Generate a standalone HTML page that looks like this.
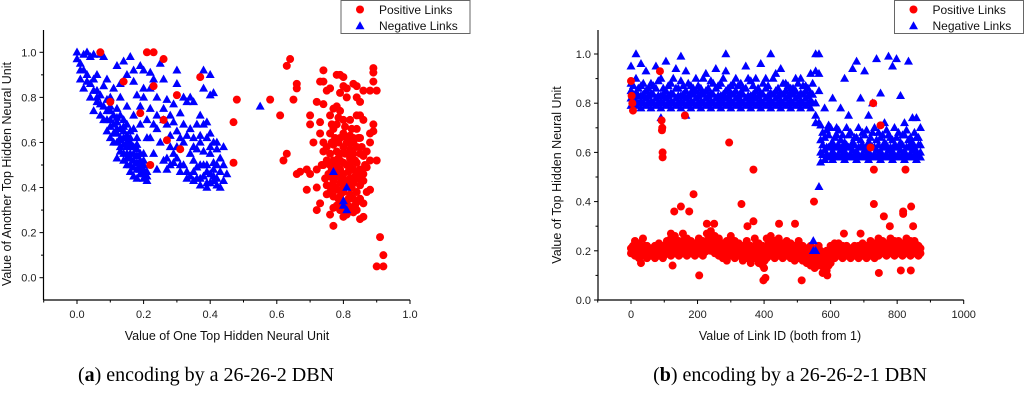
<!DOCTYPE html>
<html><head><meta charset="utf-8"><style>
html,body{margin:0;padding:0;background:#fff;}
svg{display:block;font-family:"Liberation Sans",sans-serif;}
.cap{font-family:"Liberation Serif",serif;font-size:20px;fill:#000;}
</style></head><body>
<svg id="chart" width="1024" height="413" viewBox="0 0 1024 413">
<g id="panelA"></g>
<g id="panelB"></g>
<text class="cap" x="206" y="381" text-anchor="middle">(<tspan font-weight="bold">a</tspan>) encoding by a 26-26-2 DBN</text>
<text class="cap" x="790" y="381" text-anchor="middle">(<tspan font-weight="bold">b</tspan>) encoding by a 26-26-2-1 DBN</text>
</svg>
<script>
// ---------- Panel A data ----------
const aXTicks = [0.0, 0.2, 0.4, 0.6, 0.8, 1.0];
const aYTicks = [0.0, 0.2, 0.4, 0.6, 0.8, 1.0];
const aNeg = [[0,1.0],[0,0.97],[0.01,0.95],[0.02,0.99],[0.03,1.0],[0.04,0.98],[0.05,0.99],[0.07,0.99],[0.08,0.98],[0.02,0.92],[0.03,0.9],[0.01,0.88],[0.02,0.84],[0.04,0.86],[0.05,0.88],[0.06,0.83],[0.04,0.8],[0.06,0.78],[0.07,0.81],[0.08,0.76],[0.09,0.79],[0.1,0.74],[0.05,0.74],[0.07,0.72],[0.09,0.7],[0.1,0.67],[0.11,0.72],[0.12,0.69],[0.11,0.64],[0.13,0.66],[0.12,0.6],[0.14,0.62],[0.15,0.58],[0.13,0.56],[0.16,0.55],[0.17,0.52],[0.15,0.5],[0.18,0.48],[0.19,0.46],[0.2,0.44],[0.21,0.43],[0.18,0.44],[0.16,0.47],[0.14,0.52],[0.17,0.58],[0.19,0.52],[0.2,0.5],[0.21,0.47],[0.2,0.55],[0.18,0.62],[0.16,0.65],[0.14,0.7],[0.12,0.75],[0.1,0.8],[0.08,0.85],[0.06,0.9],[0.09,0.88],[0.11,0.84],[0.13,0.8],[0.15,0.76],[0.17,0.72],[0.19,0.68],[0.21,0.62],[0.09,0.65],[0.08,0.7],[0.11,0.6],[0.13,0.58],[0.1,0.62],[0.12,0.53],[0.14,0.55],[0.16,0.5],[0.17,0.45],[0.19,0.5],[0.15,0.6],[0.13,0.72],[0.15,0.68],[0.17,0.66],[0.18,0.54],[0.2,0.46],
[0.12,0.94],[0.14,0.96],[0.16,0.98],[0.15,0.9],[0.13,0.86],[0.17,0.87],[0.19,0.94],[0.2,0.92],[0.22,0.91],[0.23,0.88],[0.25,0.95],[0.26,0.88],[0.22,0.84],[0.2,0.8],[0.18,0.81],[0.24,0.8],[0.27,0.79],[0.3,0.92],[0.3,0.86],[0.32,0.8],[0.34,0.8],[0.33,0.78],[0.29,0.77],[0.26,0.75],[0.22,0.75],[0.24,0.72],[0.28,0.72],[0.31,0.73],[0.35,0.78],[0.37,0.72],[0.38,0.84],[0.38,0.92],[0.4,0.9],[0.4,0.81],[0.41,0.82],[0.36,0.68],[0.38,0.68],[0.39,0.69],[0.24,0.66],[0.27,0.68],[0.26,0.7],[0.3,0.65],[0.33,0.63],[0.35,0.62],[0.37,0.63],[0.4,0.64],[0.41,0.6],[0.42,0.6],[0.44,0.58],[0.22,0.62],[0.25,0.6],[0.28,0.58],[0.3,0.58],[0.32,0.6],[0.34,0.55],[0.36,0.57],[0.38,0.56],[0.4,0.55],[0.23,0.55],[0.26,0.52],[0.28,0.5],[0.3,0.53],[0.32,0.5],[0.33,0.47],[0.35,0.47],[0.37,0.5],[0.38,0.45],[0.4,0.46],[0.41,0.43],[0.42,0.41],[0.43,0.4],[0.39,0.42],[0.36,0.44],[0.34,0.45],[0.42,0.5],[0.44,0.5],[0.45,0.46],[0.43,0.53],[0.24,0.48],[0.27,0.48],[0.29,0.55],[0.31,0.62],[0.28,0.63],[0.19,0.76],[0.21,0.7],[0.23,0.68],[0.2,0.84],[0.17,0.92],[0.39,0.5],[0.41,0.48],[0.35,0.52],[0.31,0.47],[0.37,0.41],[0.55,0.76]];
const aNegFill = [[0.11,0.68],[0.12,0.64],[0.13,0.62],[0.14,0.59],[0.14,0.65],[0.15,0.55],[0.15,0.63],[0.16,0.58],[0.16,0.6],[0.17,0.55],[0.17,0.49],[0.18,0.51],[0.18,0.57],[0.19,0.48],[0.19,0.55],[0.2,0.48],[0.21,0.45],[0.2,0.52],[0.16,0.53],[0.15,0.53],[0.13,0.61],[0.12,0.66],[0.1,0.7],[0.09,0.74],[0.07,0.77],[0.06,0.8],[0.05,0.83],[0.03,0.87],[0.01,0.92],[0.1,0.76],[0.12,0.71],[0.14,0.67],[0.16,0.62],[0.18,0.59],[0.33,0.44],[0.35,0.43],[0.37,0.44],[0.39,0.4],[0.4,0.42],[0.41,0.45],[0.42,0.44],[0.43,0.47],[0.44,0.43],[0.36,0.49],[0.38,0.5],[0.39,0.47],[0.41,0.51],[0.29,0.51],[0.31,0.5],[0.27,0.53],[0.35,0.58],[0.37,0.6],[0.39,0.62],[0.42,0.57],[0.4,0.58],[0.34,0.66],[0.32,0.68],[0.29,0.69]];
const aPos = [[0.07,1.0],[0.21,1.0],[0.23,1.0],[0.26,0.97],[0.37,0.89],[0.14,0.87],[0.23,0.85],[0.3,0.81],[0.1,0.78],[0.19,0.73],[0.26,0.7],[0.27,0.61],[0.31,0.57],[0.22,0.5],[0.48,0.79],[0.47,0.69],[0.47,0.51],[0.58,0.79],[0.61,0.72],[0.63,0.94],[0.64,0.97],[0.65,0.79],[0.66,0.86],[0.66,0.84],[0.62,0.52],[0.63,0.55],[0.66,0.46],[0.67,0.47],
[0.7,0.72],[0.7,0.68],[0.71,0.6],[0.69,0.48],[0.7,0.46],[0.72,0.48],[0.69,0.39],[0.72,0.4],[0.72,0.3],[0.73,0.33],[0.73,0.87],[0.74,0.92],[0.74,0.87],[0.75,0.83],[0.72,0.78],[0.74,0.77],[0.73,0.69],[0.73,0.64],[0.74,0.6],[0.74,0.56],[0.74,0.5],[0.75,0.41],[0.75,0.37],[0.76,0.28],[0.77,0.23],[0.76,0.84],[0.78,0.9],[0.79,0.9],[0.8,0.89],[0.79,0.82],[0.8,0.85],[0.81,0.84],[0.81,0.8],[0.76,0.72],[0.77,0.75],[0.78,0.76],[0.79,0.74],[0.8,0.7],[0.82,0.7],[0.76,0.64],[0.77,0.66],[0.78,0.68],[0.79,0.62],[0.8,0.64],[0.81,0.6],[0.82,0.63],[0.83,0.62],[0.84,0.66],[0.85,0.62],[0.75,0.58],[0.76,0.55],[0.77,0.59],[0.78,0.56],[0.79,0.55],[0.8,0.58],[0.81,0.55],[0.82,0.57],[0.83,0.55],[0.84,0.58],[0.85,0.55],[0.86,0.54],[0.75,0.52],[0.76,0.5],[0.77,0.52],[0.78,0.5],[0.79,0.48],[0.8,0.51],[0.81,0.5],[0.82,0.5],[0.83,0.48],[0.84,0.51],[0.85,0.48],[0.86,0.46],[0.76,0.45],[0.77,0.43],[0.78,0.45],[0.79,0.42],[0.8,0.44],[0.82,0.44],[0.83,0.42],[0.84,0.44],[0.85,0.41],[0.76,0.38],[0.77,0.36],[0.78,0.39],[0.79,0.36],[0.8,0.38],[0.82,0.37],[0.83,0.35],[0.84,0.38],[0.85,0.35],[0.77,0.31],[0.78,0.32],[0.79,0.3],[0.8,0.27],[0.81,0.28],[0.82,0.31],[0.83,0.29],[0.84,0.3],[0.85,0.26],[0.86,0.27],[0.86,0.33],[0.87,0.38],[0.86,0.43],[0.87,0.49],[0.88,0.52],[0.87,0.56],[0.88,0.6],[0.89,0.65],[0.89,0.68],[0.88,0.64],[0.86,0.7],[0.85,0.72],[0.84,0.72],[0.84,0.8],[0.85,0.78],[0.83,0.86],[0.84,0.85],[0.86,0.83],[0.88,0.83],[0.89,0.93],[0.89,0.91],[0.89,0.87],[0.9,0.83],[0.9,0.52],[0.88,0.39],[0.91,0.18],[0.92,0.1],[0.9,0.05],[0.92,0.05],[0.81,0.62],[0.82,0.53],[0.8,0.46],[0.79,0.52],[0.83,0.6]];
const aPosFill = [[0.775,0.47],[0.785,0.53],[0.795,0.45],[0.805,0.41],[0.815,0.47],[0.825,0.4],[0.835,0.45],[0.815,0.35],[0.795,0.33],[0.775,0.4],[0.765,0.48],[0.765,0.6],[0.775,0.62],[0.785,0.6],[0.805,0.55],[0.825,0.6],[0.835,0.52],[0.845,0.47],[0.855,0.44],[0.845,0.34],[0.835,0.32],[0.815,0.32],[0.805,0.3],[0.785,0.35],[0.765,0.41],[0.755,0.46],[0.745,0.44],[0.735,0.5],[0.765,0.68],[0.785,0.71],[0.805,0.67],[0.825,0.66],[0.815,0.42],[0.795,0.39],[0.865,0.5],[0.855,0.58],[0.845,0.62]];
const aNegOver = [[0.77,0.47],[0.81,0.4],[0.8,0.34],[0.81,0.3],[0.8,0.32]];

// ---------- Panel B data ----------
const bXTicks = [0, 200, 400, 600, 800, 1000];
const bYTicks = [0.0, 0.2, 0.4, 0.6, 0.8, 1.0];
const bNegIds = [0,15,30,45,60,75,90,105,120,135,150,165,180,195,210,225,240,255,270,285,300,315,330,345,360,375,390,405,420,435,450,465,480,495,510,525,540,555,565,
570,582,594,606,618,630,642,654,666,678,690,702,714,726,738,750,762,774,786,798,810,822,834,846,858,870];
const bNegVals = [[.79,.82,.85,.88,.95],[.79,.81,.84,.9,1.0],[.78,.81,.83,.87,.96],[.79,.82,.85,.93],[.78,.81,.84,.88],[.79,.82,.86,.95],[.78,.81,.83,.9,.74],[.79,.82,.85,.97],[.78,.81,.84,.88],[.79,.82,.86,.94],[.78,.81,.83,.89,.99],[.79,.82,.85,.93,.75],[.78,.81,.84,.87],[.79,.82,.85,.9],[.78,.81,.84,.86],[.79,.82,.85,.92],[.78,.81,.84,.89],[.79,.82,.86,.94],[.78,.81,.83,.88],[.79,.82,.85,.93,1.0],[.78,.81,.84,.87],[.79,.82,.85,.9],[.78,.81,.84,.88],[.79,.82,.86,.95],[.78,.81,.83,.89],[.79,.82,.85,.9],[.78,.81,.84,.96],[.79,.82,.86,.9],[.78,.81,.84,1.0],[.79,.82,.85,.92],[.78,.81,.84,.94],[.79,.82,.85,.88],[.78,.81,.84,.86],[.79,.82,.85,.9],[.78,.81,.84,.9],[.79,.82,.85,.87],[.78,.81,.84,.92],[.75,.8,.93,1.0,.72],[.72,.85,.92,1.0,.46],
[.56,.6,.65,.71],[.57,.61,.66,.78],[.58,.62,.67,.71],[.57,.6,.64,.82],[.58,.62,.67,.7],[.58,.61,.65,.78],[.57,.6,.64,.9],[.58,.62,.67,.75],[.58,.61,.64,.94],[.57,.6,.66,.97],[.58,.62,.65,.82],[.58,.61,.67,.93],[.57,.6,.64,.75],[.58,.62,.68,.8],[.58,.61,.65,.98],[.57,.6,.66,.84],[.58,.62,.64,.72],[.58,.61,.67,.99],[.57,.6,.65,.95],[.58,.62,.66,.98],[.58,.61,.64,.83],[.57,.6,.67,.72],[.58,.62,.65,.97],[.58,.61,.64,.74],[.57,.6,.66,.74],[.58,.6,.63,.7]];
const bNegIds2 = [7,22,37,52,67,82,97,112,127,142,157,172,187,202,217,232,247,262,277,292,307,322,337,352,367,382,397,412,427,442,457,472,487,502,517,532,546,
576,588,600,612,624,636,648,660,672,684,696,708,720,732,744,756,768,780,792,804,816,828,840,852,864];
const bNegVals2 = [[.8,.835,.87],[.8,.83,.86],[.8,.835,.88],[.8,.83,.86],[.8,.835,.87],[.8,.83,.89],[.8,.835,.86],[.8,.83,.87],[.8,.835,.9],[.8,.83,.86],[.8,.835,.87],[.8,.83,.88],[.8,.835,.86],[.8,.83,.87],[.8,.835,.9],[.8,.83,.86],[.8,.835,.88],[.8,.83,.87],[.8,.835,.9],[.8,.83,.86],[.8,.835,.88],[.8,.83,.87],[.8,.835,.86],[.8,.83,.9],[.8,.835,.87],[.8,.83,.86],[.8,.835,.88],[.8,.83,.87],[.8,.835,.9],[.8,.83,.86],[.8,.835,.88],[.8,.83,.87],[.8,.835,.86],[.8,.83,.88],[.8,.835,.87],[.8,.83,.86],[.8,.835,.88],
[.59,.63,.68],[.59,.62,.69],[.59,.63,.7],[.59,.62,.66],[.59,.63,.69],[.59,.62,.67],[.59,.63,.7],[.59,.62,.68],[.59,.63,.66],[.59,.62,.7],[.59,.63,.68],[.59,.62,.69],[.59,.63,.66],[.59,.62,.7],[.59,.63,.68],[.59,.62,.67],[.59,.63,.69],[.59,.62,.66],[.59,.63,.7],[.59,.62,.68],[.59,.63,.67],[.59,.62,.69],[.59,.63,.66],[.59,.62,.68],[.59,.63,.66]];
const bPosIds = [0,12,24,36,48,60,72,84,96,108,120,132,144,156,168,180,192,204,216,228,240,252,264,276,288,300,312,324,336,348,360,372,384,396,408,420,432,444,456,468,480,492,504,516,528,540,552,564,576,588,600,612,624,636,648,660,672,684,696,708,720,732,744,756,768,780,792,804,816,828,840,852,864];
const bPosVals = [[.19,.21],[.18,.21,.24],[.17,.2,.23],[.18,.2,.25],[.17,.19,.22],[.18,.2,.21],[.17,.19,.22],[.18,.2,.23],[.17,.2,.22],[.19,.21,.24],[.18,.21,.25],[.19,.22,.26],[.18,.21,.24],[.19,.23,.27],[.18,.21,.25],[.19,.22,.24],[.18,.2,.23],[.19,.22,.25],[.18,.21,.24],[.2,.23,.27],[.2,.24,.28],[.19,.22,.26],[.18,.21,.25],[.17,.2,.23],[.16,.2,.24],[.18,.22,.26],[.17,.21,.24],[.18,.2,.23],[.16,.19,.22],[.17,.2,.24],[.15,.19,.22],[.17,.21,.25],[.15,.19,.23],[.14,.18,.22],[.17,.21,.25],[.18,.22,.26],[.17,.2,.24],[.18,.21,.25],[.17,.2,.23],[.18,.21,.24],[.17,.2,.23],[.16,.19,.22],[.17,.2,.24],[.16,.19,.22],[.15,.18,.21],[.14,.18,.22],[.13,.17,.21],[.14,.18,.22],[.11,.15,.19],[.12,.16,.2],[.15,.19,.22],[.17,.2,.23],[.18,.21,.23],[.17,.19,.22],[.18,.2,.22],[.17,.19,.21],[.18,.2,.22],[.17,.19,.22],[.18,.2,.23],[.17,.2,.22],[.18,.21,.24],[.17,.2,.23],[.18,.21,.25],[.19,.22,.24],[.18,.21,.23],[.19,.22,.25],[.18,.21,.24],[.19,.22,.24],[.18,.21,.23],[.19,.22,.25],[.18,.21,.24],[.19,.21,.24],[.18,.2,.22]];
const bPosIds2 = [6,18,30,42,54,66,78,90,102,114,126,138,150,162,174,186,198,210,222,234,246,258,270,282,294,306,318,330,342,354,366,378,390,402,414,426,438,450,462,474,486,498,510,522,534,546,558,570,582,594,606,618,630,642,654,666,678,690,702,714,726,738,750,762,774,786,798,810,822,834,846,858,870];
const bPosVals2 = [[.2,.22],[.195,.225],[.185,.215],[.19,.22],[.185,.205],[.19,.21],[.185,.205],[.19,.215],[.185,.21],[.2,.225],[.195,.23],[.2,.24],[.195,.225],[.21,.25],[.195,.23],[.2,.23],[.19,.215],[.2,.235],[.195,.225],[.21,.25],[.22,.26],[.205,.24],[.195,.23],[.185,.215],[.18,.22],[.2,.24],[.19,.225],[.19,.215],[.175,.205],[.185,.22],[.17,.205],[.19,.23],[.17,.21],[.16,.2],[.19,.23],[.2,.24],[.185,.22],[.195,.23],[.185,.215],[.195,.225],[.185,.215],[.175,.205],[.185,.22],[.175,.205],[.165,.195],[.16,.2],[.15,.19],[.16,.2],[.13,.17],[.14,.18],[.17,.205],[.185,.215],[.195,.22],[.18,.205],[.19,.21],[.18,.2],[.19,.21],[.18,.205],[.19,.215],[.185,.21],[.195,.225],[.185,.215],[.195,.23],[.205,.23],[.195,.22],[.205,.235],[.195,.225],[.205,.23],[.195,.22],[.205,.235],[.195,.225],[.2,.225],[.19,.21]];
const bPosOut = [[0,.89],[2,.83],[4,.8],[6,.77],[87,.93],[92,.73],[93,.69],[94,.7],[95,.6],[95,.58],[162,.75],[295,.64],[368,.53],[550,.4],[728,.8],[730,.53],[825,.53],[750,.71],[720,.62],[188,.43],[332,.39],[150,.38],[130,.36],[175,.36],[368,.32],[350,.3],[228,.31],[250,.31],[493,.31],[445,.31],[730,.39],[842,.38],[818,.36],[818,.35],[848,.3],[760,.34],[778,.3],[125,.14],[205,.1],[398,.08],[404,.09],[513,.08],[745,.11],[811,.12],[841,.12],[30,.15],[590,.1],[580,.12],[400,.13],[120,.27],[640,.27],[690,.27]];
const bNegOver = [[548,.24],[548,.2],[555,.2]];

const NS = 'http://www.w3.org/2000/svg';
function mk(tag, attrs, parent){ const e=document.createElementNS(NS,tag); for(const k in attrs) e.setAttribute(k,attrs[k]); parent.appendChild(e); return e; }
function circle(g,x,y){ const c=mk('circle',{cx:x,cy:y,r:4,fill:'#ff0000'},g);
  
   }
function tri(g,x,y){ const p=mk('polygon',{points:`${x},${y-4.8} ${x-4.5},${y+3.2} ${x+4.5},${y+3.2}`,fill:'#0000ff'},g);
  
   }

function axes(g, o){
  const xa=mk('line',{x1:o.axL,y1:o.axB,x2:o.axR,y2:o.axB,stroke:'#000','stroke-width':1.2},g);
  
  
  const ya=mk('line',{x1:o.axL,y1:o.axB,x2:o.axL,y2:o.axT,stroke:'#000','stroke-width':1.2},g);
  
  
  o.xticks.forEach((v,i)=>{
    const x=o.sx(v);
    mk('line',{x1:x,y1:o.axB,x2:x,y2:o.axB+4,stroke:'#000'},g);
    const t=mk('text',{x:x,y:o.axB+18,'text-anchor':'middle','font-size':11,fill:'#222'},g); t.textContent=o.xfmt(v);
    
    
    if(i<o.xticks.length-1){ const xm=o.sx(v+o.xstep/2); mk('line',{x1:xm,y1:o.axB,x2:xm,y2:o.axB+2.5,stroke:'#000'},g); }
  });
  const xmin=o.sx(o.xticks[0]-o.xstep/2); mk('line',{x1:xmin,y1:o.axB,x2:xmin,y2:o.axB+2.5,stroke:'#000'},g);
  o.yticks.forEach((v)=>{
    const y=o.sy(v);
    mk('line',{x1:o.axL,y1:y,x2:o.axL-4,y2:y,stroke:'#000'},g);
    const t=mk('text',{x:o.axL-7,y:y+4,'text-anchor':'end','font-size':11,fill:'#222'},g); t.textContent=v.toFixed(1);
    
    
    const ym=o.sy(v+0.1); if(ym>o.axT) mk('line',{x1:o.axL,y1:ym,x2:o.axL-2.5,y2:ym,stroke:'#000'},g);
  });
  const xt=mk('text',{x:o.xtx,y:340,'text-anchor':'middle','font-size':12.5,fill:'#111'},g); xt.textContent=o.xtitle;
  
  
  const yt=mk('text',{x:0,y:0,'text-anchor':'middle','font-size':12.5,fill:'#111',transform:`translate(${o.ytx},${o.yty}) rotate(-90)`},g); yt.textContent=o.ytitle;
  
  
}
function legend(g,x,w){
  const lg=mk('g',{},g);
  
  
  mk('rect',{x:x,y:0.5,width:w,height:33,fill:'#fff',stroke:'#666','stroke-width':1},lg);
  circle(lg,x+19,9.5); tri(lg,x+19,26);
  const t1=mk('text',{x:x+38,y:14,'font-size':12,fill:'#111'},lg); t1.textContent='Positive Links';
  
  
  const t2=mk('text',{x:x+38,y:30,'font-size':12,fill:'#111'},lg); t2.textContent='Negative Links';
  
  
}

// Panel A
(function(){
  const g=document.getElementById('panelA');
  const sx=v=>77+v*333, sy=v=>277.7-v*225.4;
  axes(g,{axL:43.5,axR:410,axB:300,axT:30,sx,sy,xticks:aXTicks,yticks:aYTicks,xstep:0.2,xfmt:v=>v.toFixed(1),
    xtitle:'Value of One Top Hidden Neural Unit',xtx:227,ytitle:'Value of Another Top Hidden Neural Unit',ytx:11,yty:174});
  aNeg.forEach(p=>tri(g,sx(p[0]),sy(p[1])));
  aNegFill.forEach(p=>tri(g,sx(p[0]),sy(p[1])));
  aPos.forEach(p=>circle(g,sx(p[0]),sy(p[1])));
  aPosFill.forEach(p=>circle(g,sx(p[0]),sy(p[1])));
  aNegOver.forEach(p=>tri(g,sx(p[0]),sy(p[1])));
  legend(g,341,129);
})();
// Panel B
(function(){
  const g=document.getElementById('panelB');
  const sx=v=>631+v*0.3327, sy=v=>300-v*246;
  axes(g,{axL:598,axR:963.7,axB:300,axT:30,sx,sy,xticks:bXTicks,yticks:bYTicks,xstep:200,xfmt:v=>String(v),
    xtitle:'Value of Link ID (both from 1)',xtx:780,ytitle:'Value of Top Hidden Neural Unit',ytx:561,yty:175});
  bNegIds.forEach((id,i)=>bNegVals[i].forEach(v=>tri(g,sx(id),sy(v))));
  bNegIds2.forEach((id,i)=>bNegVals2[i].forEach(v=>tri(g,sx(id),sy(v))));
  bPosIds.forEach((id,i)=>bPosVals[i].forEach(v=>circle(g,sx(id),sy(v))));
  bPosIds2.forEach((id,i)=>bPosVals2[i].forEach(v=>circle(g,sx(id),sy(v))));
  bPosOut.forEach(p=>circle(g,sx(p[0]),sy(p[1])));
  bNegOver.forEach(p=>tri(g,sx(p[0]),sy(p[1])));
  legend(g,894.5,129);
})();
</script>
</body></html>
